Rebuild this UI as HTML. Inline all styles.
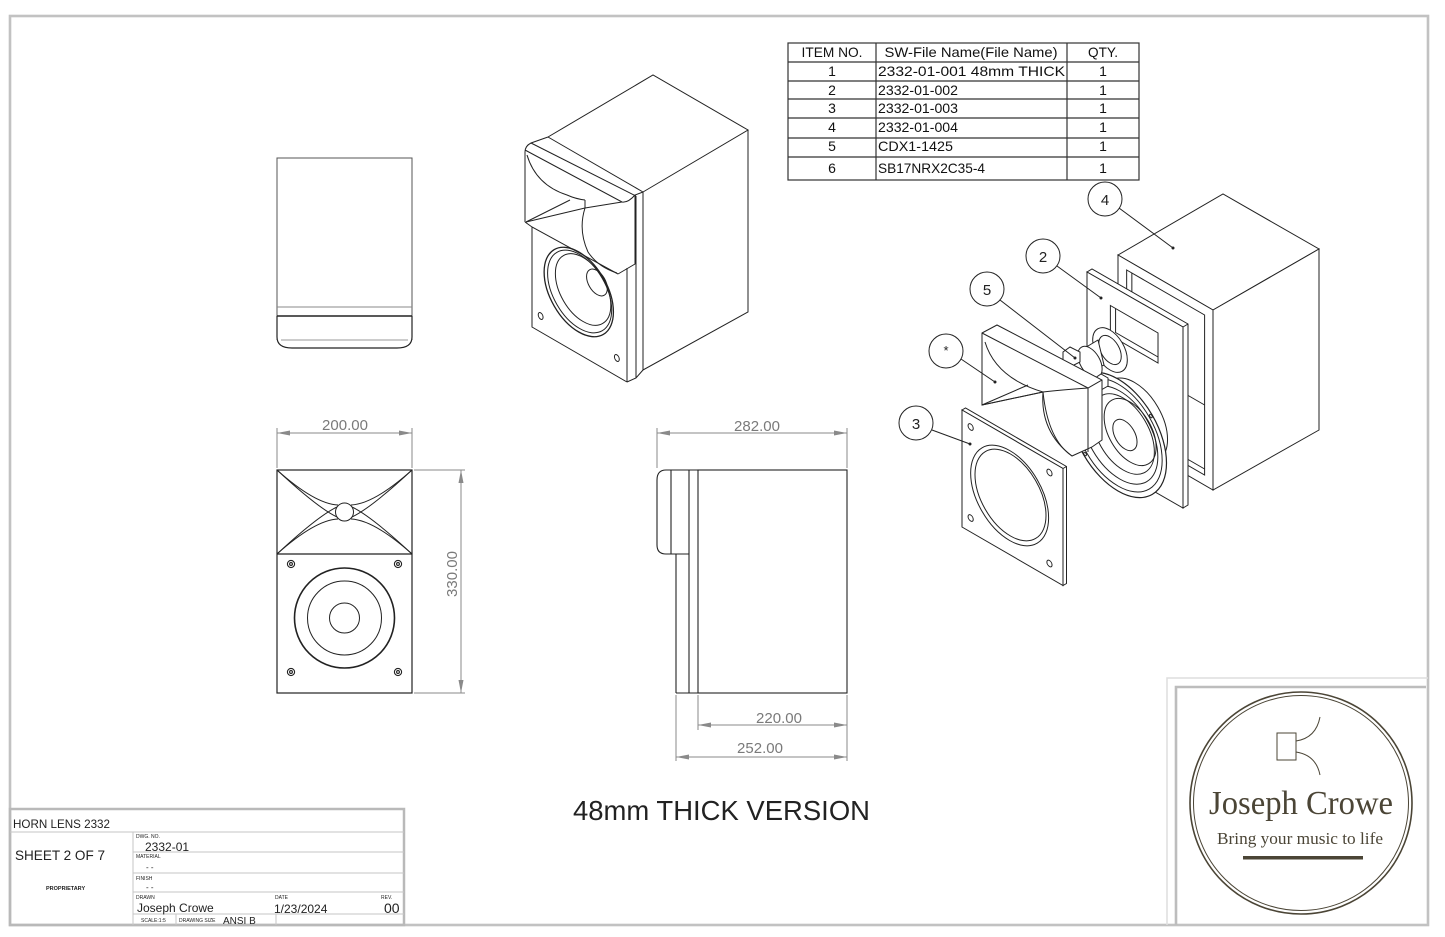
<!DOCTYPE html>
<html><head><meta charset="utf-8"><style>
html,body{margin:0;padding:0;background:#fff;}
svg{display:block;}
text{font-family:"Liberation Sans",sans-serif;}
text.serif{font-family:"Liberation Serif",serif;}
.ns{vector-effect:non-scaling-stroke;}
</style></head><body>
<svg width="1445" height="937" viewBox="0 0 1445 937" xmlns="http://www.w3.org/2000/svg">
<rect width="1445" height="937" fill="#fff"/>
<!-- sheet border -->
<rect x="10" y="16" width="1418" height="909" fill="none" stroke="#c2c2c2" stroke-width="2.6"/>

<!-- BOM table -->
<g stroke="#333" stroke-width="1.2" fill="none">
<rect x="788" y="43" width="351" height="137"/>
<line x1="876" y1="43" x2="876" y2="180"/>
<line x1="1067" y1="43" x2="1067" y2="180"/>
<line x1="788" y1="62" x2="1139" y2="62"/>
<line x1="788" y1="81" x2="1139" y2="81"/>
<line x1="788" y1="99" x2="1139" y2="99"/>
<line x1="788" y1="118" x2="1139" y2="118"/>
<line x1="788" y1="138" x2="1139" y2="138"/>
<line x1="788" y1="157" x2="1139" y2="157"/>
</g>
<g font-size="14" fill="#111">
<text x="832" y="57" text-anchor="middle" textLength="61" lengthAdjust="spacingAndGlyphs">ITEM NO.</text>
<text x="971" y="57" text-anchor="middle" textLength="173" lengthAdjust="spacingAndGlyphs">SW-File Name(File Name)</text>
<text x="1103" y="57" text-anchor="middle" textLength="30" lengthAdjust="spacingAndGlyphs">QTY.</text>
<text x="832" y="76" text-anchor="middle">1</text>
<text x="832" y="95" text-anchor="middle">2</text>
<text x="832" y="113" text-anchor="middle">3</text>
<text x="832" y="132" text-anchor="middle">4</text>
<text x="832" y="151" text-anchor="middle">5</text>
<text x="832" y="173" text-anchor="middle">6</text>
<text x="878" y="76" textLength="187" lengthAdjust="spacingAndGlyphs">2332-01-001 48mm THICK</text>
<text x="878" y="95" textLength="80" lengthAdjust="spacingAndGlyphs">2332-01-002</text>
<text x="878" y="113" textLength="80" lengthAdjust="spacingAndGlyphs">2332-01-003</text>
<text x="878" y="132" textLength="80" lengthAdjust="spacingAndGlyphs">2332-01-004</text>
<text x="878" y="151" textLength="75" lengthAdjust="spacingAndGlyphs">CDX1-1425</text>
<text x="878" y="173" textLength="107" lengthAdjust="spacingAndGlyphs">SB17NRX2C35-4</text>
<text x="1103" y="76" text-anchor="middle">1</text>
<text x="1103" y="95" text-anchor="middle">1</text>
<text x="1103" y="113" text-anchor="middle">1</text>
<text x="1103" y="132" text-anchor="middle">1</text>
<text x="1103" y="151" text-anchor="middle">1</text>
<text x="1103" y="173" text-anchor="middle">1</text>
</g>

<!-- TOP VIEW -->
<g fill="none" stroke-width="1">
<path d="M277,340 V158 H412 V340" stroke="#555"/>
<line x1="277" y1="307" x2="412" y2="307" stroke="#888"/>
<line x1="277" y1="316" x2="412" y2="316" stroke="#222" stroke-width="1.4"/>
<line x1="281" y1="340" x2="408" y2="340" stroke="#999"/>
<path d="M277,316 V337 Q277,348 292,348 H397 Q412,348 412,337 V316" stroke="#222" stroke-width="1.2"/>
</g>

<!-- FRONT VIEW -->
<g fill="none" stroke="#222" stroke-width="1">
<rect x="277" y="470" width="135" height="223" stroke-width="1.2"/>
<line x1="277" y1="554" x2="412" y2="554" stroke-width="1.2"/>
<path d="M277,470 Q315,504 338,505"/>
<path d="M412,470 Q374,504 351,505"/>
<path d="M277,554 Q315,520 338,519"/>
<path d="M412,554 Q374,520 351,519"/>
<path d="M277,470 Q318,508 337,517"/>
<path d="M412,470 Q371,508 352,517"/>
<path d="M277,554 Q318,516 337,507"/>
<path d="M412,554 Q371,516 352,507"/>
<circle cx="344.5" cy="512" r="9" fill="#fff"/>
<circle cx="344.5" cy="618" r="50" stroke-width="1.6"/>
<circle cx="344.5" cy="618" r="37"/>
<circle cx="344.5" cy="618" r="15"/>
<g stroke-width="1.1">
<circle cx="291" cy="564" r="3.6"/><circle cx="291" cy="564" r="1.4"/>
<circle cx="398" cy="564" r="3.6"/><circle cx="398" cy="564" r="1.4"/>
<circle cx="291" cy="672" r="3.6"/><circle cx="291" cy="672" r="1.4"/>
<circle cx="398" cy="672" r="3.6"/><circle cx="398" cy="672" r="1.4"/>
</g>
</g>
<g stroke="#8a8a8a" stroke-width="1" fill="none">
<line x1="277" y1="428" x2="277" y2="468"/>
<line x1="412" y1="428" x2="412" y2="468"/>
<line x1="277" y1="433" x2="412" y2="433"/>
<line x1="414" y1="470" x2="465" y2="470"/>
<line x1="414" y1="693" x2="465" y2="693"/>
<line x1="461" y1="470" x2="461" y2="693"/>
</g>
<g fill="#8a8a8a">
<polygon points="277,433 290,430.5 290,435.5"/>
<polygon points="412,433 399,430.5 399,435.5"/>
<polygon points="461,470 458.5,483 463.5,483"/>
<polygon points="461,693 458.5,680 463.5,680"/>
</g>
<g fill="#7a7a7a" font-size="15">
<text x="345" y="430" text-anchor="middle">200.00</text>
<text x="0" y="0" text-anchor="middle" transform="translate(457 574) rotate(-90)">330.00</text>
</g>

<!-- SIDE VIEW -->
<g fill="none" stroke="#222" stroke-width="1.1">
<path d="M698,470 H666 Q657,470 657,480 V545 Q657,554 666,554 H689"/>
<line x1="671" y1="470" x2="671" y2="554"/>
<line x1="689" y1="470" x2="689" y2="693"/>
<line x1="676" y1="554" x2="676" y2="693"/>
<rect x="698" y="470" width="149" height="223"/>
<line x1="676" y1="693" x2="698" y2="693"/>
</g>
<g stroke="#8a8a8a" stroke-width="1" fill="none">
<line x1="657" y1="428" x2="657" y2="468"/>
<line x1="847" y1="428" x2="847" y2="468"/>
<line x1="657" y1="433" x2="847" y2="433"/>
<line x1="698" y1="695" x2="698" y2="730"/>
<line x1="847" y1="695" x2="847" y2="761"/>
<line x1="676" y1="695" x2="676" y2="761"/>
<line x1="698" y1="725" x2="847" y2="725"/>
<line x1="676" y1="757" x2="847" y2="757"/>
</g>
<g fill="#8a8a8a">
<polygon points="657,433 670,430.5 670,435.5"/>
<polygon points="847,433 834,430.5 834,435.5"/>
<polygon points="698,725 711,722.5 711,727.5"/>
<polygon points="847,725 834,722.5 834,727.5"/>
<polygon points="676,757 689,754.5 689,759.5"/>
<polygon points="847,757 834,754.5 834,759.5"/>
</g>
<g fill="#7a7a7a" font-size="15" text-anchor="middle">
<text x="757" y="431">282.00</text>
<text x="779" y="723">220.00</text>
<text x="760" y="753">252.00</text>
</g>

<!-- ISOMETRIC VIEW -->
<g fill="none" stroke="#222" stroke-width="1">
<path d="M548,137 L653,75 L748,130 L643,192"/>
<path d="M643,192 V370 L748,312 V130"/>
<line x1="548" y1="137" x2="643" y2="192"/>
<line x1="531" y1="143" x2="636" y2="196"/>
<line x1="636" y1="196" x2="636" y2="378"/>
<line x1="627" y1="268" x2="627" y2="382"/>
<path d="M627,382 L636,378 L643,370"/>
<path d="M532,227 V327 L627,382"/>
<path d="M525,222 V152 Q525,146 531,143 L548,137"/>
<path d="M525,150 L622,202 Q628,203 635,195 L643,192"/>
<path d="M635,195 V264 L618,274"/>
<path d="M525,222 L532,227 L618,274"/>
<path d="M527,155 Q536,185 567,195 Q576,199 585,200"/>
<line x1="526" y1="222" x2="570" y2="200"/>
<line x1="526" y1="222" x2="585" y2="208"/>
<line x1="585" y1="200" x2="585" y2="208"/>
<line x1="585" y1="208" x2="622" y2="202"/>
<path d="M585,208 Q578,230 588,252 Q598,267 617,273"/>
<g transform="translate(532 227) matrix(0.866 0.5 0 1 0 0)">
<circle class="ns" cx="54" cy="38" r="40" stroke-width="1.3"/>
<circle class="ns" cx="55" cy="37" r="37"/>
<circle class="ns" cx="59" cy="33" r="32"/>
<circle class="ns" cx="75" cy="18" r="12"/>
<ellipse class="ns" cx="10" cy="84" rx="2.8" ry="3.2"/>
<ellipse class="ns" cx="98" cy="82" rx="2.8" ry="3.2"/>
</g>
</g>

<!-- EXPLODED VIEW -->
<g stroke="#222" stroke-width="1" fill="#fff">
<polygon points="1118,255 1223,194 1319,249 1213,310"/>
<polygon points="1213,310 1319,249 1319,430 1213,490"/>
<polygon points="1118,255 1213,310 1213,490 1118,435"/>
<g transform="translate(1118 255) matrix(0.866 0.5 0 1 0 0)" fill="none">
<rect class="ns" x="10" y="10" width="90" height="160"/>
<polyline class="ns" points="16,10 16,164 100,164"/>
<line class="ns" x1="80" y1="100" x2="100" y2="100"/>
</g>
<polygon points="1087,272 1092,269 1188,324 1188,505 1183,508 1183,327"/>
<polygon points="1087,272 1183,327 1183,508 1087,453"/>
<line x1="1183" y1="327" x2="1188" y2="324"/>
<g transform="translate(1087 272) matrix(0.866 0.5 0 1 0 0)" fill="none">
<rect class="ns" x="27" y="20" width="55" height="30"/>
<polyline class="ns" points="33,20 33,44 82,44"/>
<circle class="ns" cx="55" cy="121" r="38"/>
</g>
<g transform="translate(1118 435) matrix(0.866 0.5 0 1 0 0)">
<circle class="ns" cx="0" cy="0" r="56" stroke-width="1.2"/>
<circle class="ns" cx="0" cy="0" r="51" fill="none"/>
<circle class="ns" cx="2" cy="-1" r="44" fill="none"/>
<circle class="ns" cx="6" cy="-4" r="36" fill="none"/>
<circle class="ns" cx="14" cy="-10" r="30" fill="none"/>
<circle class="ns" cx="8" cy="-4" r="14" fill="none"/>
<circle class="ns" cx="-38" cy="38" r="1.6" fill="none"/>
<circle class="ns" cx="38" cy="-38" r="1.6" fill="none"/>
</g>
<g transform="translate(1110 350) matrix(0.866 0.5 0 1 0 0)">
<circle class="ns" cx="0" cy="0" r="20"/>
<circle class="ns" cx="0" cy="0" r="13" fill="none"/>
</g>
<polygon points="1078,352 1098,340 1104,365 1085,374"/>
<g transform="translate(1090 362) matrix(0.866 0.5 0 1 0 0)">
<circle class="ns" cx="0" cy="0" r="14"/>
</g>
<path d="M1063,352 L1070,347 L1080,352 L1080,362 L1072,366 L1063,361 Z"/>
<path d="M1095,378 L1101,374 L1108,378 L1108,386 L1101,390 L1095,386 Z"/>
<path d="M982,333 L997,325 L1102,380 L1102,440 L1092,447 L1072,456 Q1048,440 1043,392 L982,405 Z"/>
<path d="M982,333 L1088,388 L1102,380" fill="none"/>
<line x1="1088" y1="388" x2="1088" y2="452"/>
<path d="M985,342 Q996,378 1043,392" fill="none"/>
<line x1="982" y1="405" x2="1043" y2="392"/>
<line x1="982" y1="405" x2="1028" y2="385"/>
<path d="M1043,392 Q1060,390 1088,388" fill="none"/>
<path d="M1043,392 Q1040,432 1072,456" fill="none"/>
<polygon points="962,410 965.5,408 1066.5,466.5 1066.5,583.5 1063,585.5 1063,468.5"/>
<polygon points="962,410 1063,468.5 1063,585.5 962,527"/>
<line x1="1063" y1="468.5" x2="1066.5" y2="466.5"/>
<g transform="translate(962 410) matrix(0.866 0.5 0 1 0 0)" fill="none">
<circle class="ns" cx="55" cy="58" r="45"/>
<circle class="ns" cx="56" cy="57" r="41"/>
<circle class="ns" cx="10" cy="12" r="3"/>
<circle class="ns" cx="101" cy="12" r="3"/>
<circle class="ns" cx="10" cy="103" r="3"/>
<circle class="ns" cx="101" cy="103" r="3"/>
</g>
</g>
<g stroke="#222" stroke-width="1" fill="none">
<line x1="1119" y1="208" x2="1173" y2="248"/>
<line x1="1057" y1="266" x2="1101" y2="298"/>
<line x1="1000" y1="300" x2="1075" y2="358"/>
<line x1="961" y1="359" x2="995" y2="382"/>
<line x1="932" y1="430" x2="970" y2="444"/>
<circle cx="1105" cy="199" r="17" fill="#fff"/>
<circle cx="1043" cy="256" r="17" fill="#fff"/>
<circle cx="987" cy="289" r="17" fill="#fff"/>
<circle cx="946" cy="351" r="17" fill="#fff"/>
<circle cx="916" cy="423" r="17" fill="#fff"/>
</g>
<g fill="#222">
<circle cx="1173" cy="248" r="1.5"/><circle cx="1101" cy="298" r="1.5"/>
<circle cx="1075" cy="358" r="1.5"/><circle cx="995" cy="382" r="1.5"/>
<circle cx="970" cy="444" r="1.5"/>
</g>
<g font-size="15" fill="#222" text-anchor="middle">
<text x="1105" y="205">4</text>
<text x="1043" y="262">2</text>
<text x="987" y="295">5</text>
<text x="946" y="355" font-size="13">*</text>
<text x="916" y="429">3</text>
</g>

<text x="573" y="820" font-size="28" fill="#222" textLength="297" lengthAdjust="spacingAndGlyphs">48mm THICK VERSION</text>

<!-- TITLE BLOCK -->
<g fill="none">
<rect x="10" y="809" width="394" height="116" stroke="#b9b9b9" stroke-width="2.5"/>
<g stroke="#c6c6c6" stroke-width="1">
<line x1="10" y1="832" x2="404" y2="832"/>
<line x1="133" y1="832" x2="133" y2="925"/>
<line x1="133" y1="852" x2="404" y2="852"/>
<line x1="133" y1="873" x2="404" y2="873"/>
<line x1="133" y1="892" x2="404" y2="892"/>
<line x1="133" y1="914" x2="404" y2="914"/>
<line x1="176" y1="914" x2="176" y2="925"/>
<line x1="276" y1="914" x2="276" y2="925"/>
</g>
</g>
<g fill="#222">
<text x="13" y="828" font-size="12" textLength="97" lengthAdjust="spacingAndGlyphs">HORN LENS 2332</text>
<text x="15" y="860" font-size="14" textLength="90" lengthAdjust="spacingAndGlyphs">SHEET 2 OF 7</text>
<text x="46" y="890" font-size="5.5" font-weight="bold">PROPRIETARY</text>
<text x="136" y="838" font-size="5">DWG. NO.</text>
<text x="145" y="851" font-size="12">2332-01</text>
<text x="136" y="858" font-size="5">MATERIAL</text>
<text x="146" y="870" font-size="8">- -</text>
<text x="136" y="880" font-size="5">FINISH</text>
<text x="146" y="890" font-size="8">- -</text>
<text x="136" y="899" font-size="5">DRAWN</text>
<text x="137" y="912" font-size="12">Joseph Crowe</text>
<text x="275" y="899" font-size="5">DATE</text>
<text x="274" y="913" font-size="12">1/23/2024</text>
<text x="381" y="899" font-size="5">REV.</text>
<text x="384" y="913" font-size="14">00</text>
<text x="141" y="922" font-size="5">SCALE:1:5</text>
<text x="179" y="922" font-size="5">DRAWING SIZE</text>
<text x="223" y="924" font-size="10">ANSI B</text>
</g>

<!-- LOGO BOX -->
<g fill="none">
<path d="M1167,925 V678 H1428" stroke="#dedede" stroke-width="1.5"/>
<path d="M1176,925 V687 H1426" stroke="#bdbdbd" stroke-width="2.6"/>
</g>
<g stroke="#4b4536" fill="none">
<circle cx="1301" cy="803" r="111" stroke-width="1.6"/>
<circle cx="1301" cy="803" r="107.5" stroke-width="1"/>
<rect x="1277" y="733" width="19" height="27" stroke-width="1"/>
<path d="M1296,741 Q1316,738 1320,717" stroke-width="1"/>
<path d="M1296,752 Q1316,755 1320,775" stroke-width="1"/>
</g>
<text class="serif" x="1301" y="814" font-size="34" fill="#4b4536" text-anchor="middle" textLength="184" lengthAdjust="spacingAndGlyphs" style="font-family:'Liberation Serif',serif">Joseph Crowe</text>
<text class="serif" x="1300" y="844" font-size="17" fill="#4b4536" text-anchor="middle" textLength="166" lengthAdjust="spacingAndGlyphs" style="font-family:'Liberation Serif',serif">Bring your music to life</text>
<rect x="1243" y="856" width="120" height="3.5" fill="#4b4536"/>
</svg>
</body></html>
